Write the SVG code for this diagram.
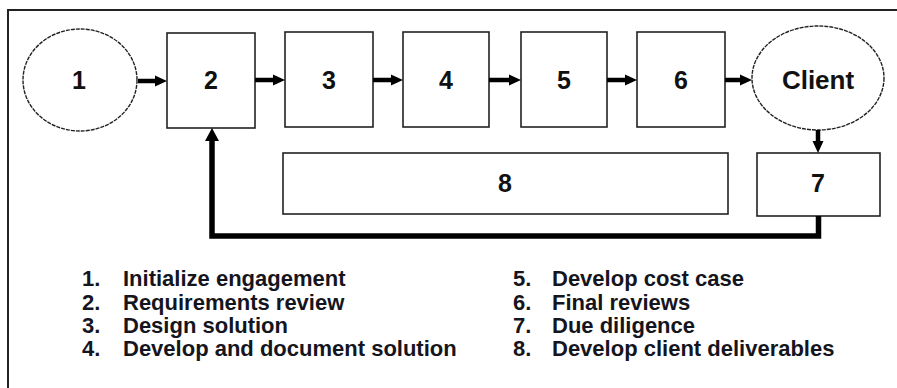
<svg xmlns="http://www.w3.org/2000/svg" width="897" height="388" viewBox="0 0 897 388">
  <defs>
    <style>
      .frame { fill: none; stroke: #222; stroke-width: 2; }
      .box { fill: #fff; stroke: #222; stroke-width: 1.6; }
      .oval { fill: #fff; stroke: #222; stroke-width: 1.4; stroke-dasharray: 4 1; }
      .lbl { font-family: "Liberation Sans", Arial, sans-serif; font-weight: bold; font-size: 25px; fill: #111; text-anchor: middle; }
      .leg { font-family: "Liberation Sans", Arial, sans-serif; font-weight: bold; font-size: 22px; fill: #151520; }
      .conn { fill: none; stroke: #000; stroke-width: 4.5; }
      .loop { fill: none; stroke: #000; stroke-width: 5.5; stroke-linejoin: miter; }
    </style>
    <marker id="ah" markerUnits="userSpaceOnUse" markerWidth="13" markerHeight="12" refX="4" refY="6" orient="auto">
      <path d="M0,0.5 L12,6 L0,11.5 z" fill="#000"/>
    </marker>
    <marker id="ahbig" markerUnits="userSpaceOnUse" markerWidth="14" markerHeight="14" refX="4" refY="7" orient="auto">
      <path d="M0,0 L13,7 L0,14 z" fill="#000"/>
    </marker>
  </defs>
  <rect width="897" height="388" fill="#fff"/>
  <rect class="frame" x="8" y="10" width="1000" height="500"/>

  <g id="node1">
    <ellipse class="oval" cx="80" cy="80" rx="57" ry="51"/>
    <text class="lbl" x="79" y="89">1</text>
  </g>
  <g id="node2">
    <rect class="box" x="167" y="33" width="88" height="95"/>
    <text class="lbl" x="211" y="89">2</text>
  </g>
  <g id="node3">
    <rect class="box" x="285" y="32" width="88" height="95"/>
    <text class="lbl" x="329" y="89">3</text>
  </g>
  <g id="node4">
    <rect class="box" x="403" y="32" width="86" height="95"/>
    <text class="lbl" x="446" y="89">4</text>
  </g>
  <g id="node5">
    <rect class="box" x="521" y="32" width="86" height="95"/>
    <text class="lbl" x="564" y="89">5</text>
  </g>
  <g id="node6">
    <rect class="box" x="637" y="32" width="88" height="95"/>
    <text class="lbl" x="681" y="89">6</text>
  </g>
  <g id="client">
    <ellipse class="oval" cx="818" cy="78" rx="66" ry="52"/>
    <text class="lbl" x="818" y="89" style="font-size:26px">Client</text>
  </g>
  <g id="node8">
    <rect class="box" x="283" y="153" width="445" height="61"/>
    <text class="lbl" x="505" y="192">8</text>
  </g>
  <g id="node7">
    <rect class="box" x="757" y="153" width="123" height="63"/>
    <text class="lbl" x="818" y="192">7</text>
  </g>

  <g id="connectors">
    <line class="conn" x1="138" y1="81" x2="159" y2="81" marker-end="url(#ah)"/>
    <line class="conn" x1="255" y1="80" x2="277" y2="80" marker-end="url(#ah)"/>
    <line class="conn" x1="373" y1="80" x2="395" y2="80" marker-end="url(#ah)"/>
    <line class="conn" x1="489" y1="80" x2="513" y2="80" marker-end="url(#ah)"/>
    <line class="conn" x1="607" y1="80" x2="629" y2="80" marker-end="url(#ah)"/>
    <line class="conn" x1="725" y1="80" x2="744" y2="80" marker-end="url(#ah)"/>
    <line class="conn" x1="818" y1="130" x2="818" y2="145" marker-end="url(#ah)"/>
    <path class="loop" d="M818.5,216 V236 H212 V137" marker-end="url(#ahbig)"/>
  </g>

  <g id="legend">
    <text class="leg" x="82" y="286">1.</text>
    <text class="leg" x="123" y="286">Initialize engagement</text>
    <text class="leg" x="82" y="309.5">2.</text>
    <text class="leg" x="123" y="309.5">Requirements review</text>
    <text class="leg" x="82" y="333">3.</text>
    <text class="leg" x="123" y="333">Design solution</text>
    <text class="leg" x="82" y="356">4.</text>
    <text class="leg" x="123" y="356">Develop and document solution</text>
    <text class="leg" x="513" y="286">5.</text>
    <text class="leg" x="552" y="286">Develop cost case</text>
    <text class="leg" x="513" y="309.5">6.</text>
    <text class="leg" x="552" y="309.5">Final reviews</text>
    <text class="leg" x="513" y="333">7.</text>
    <text class="leg" x="552" y="333">Due diligence</text>
    <text class="leg" x="513" y="356">8.</text>
    <text class="leg" x="552" y="356">Develop client deliverables</text>
  </g>
</svg>
